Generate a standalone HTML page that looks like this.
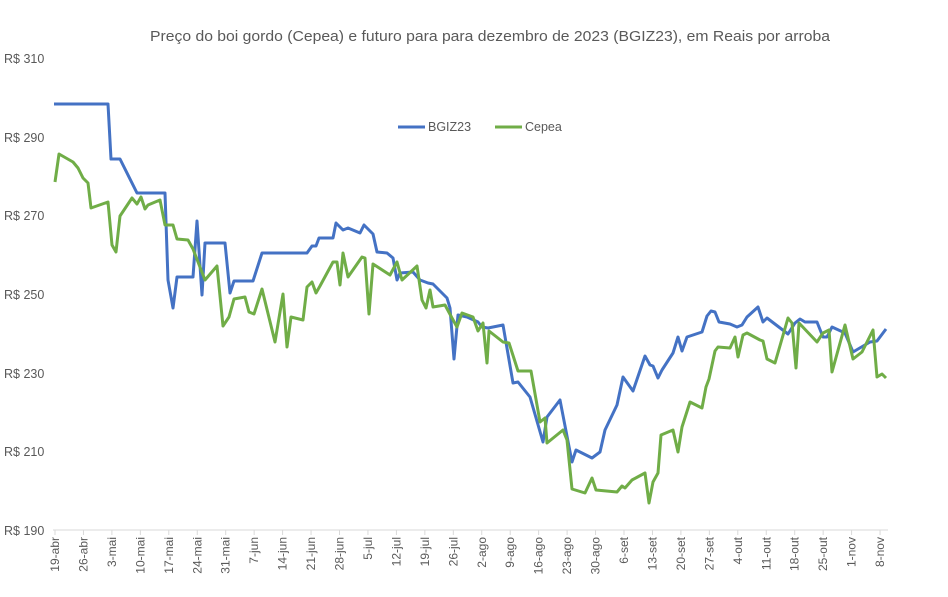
<!DOCTYPE html>
<html><head><meta charset="utf-8"><style>
body{margin:0;background:#fff;}
svg text{font-family:"Liberation Sans",sans-serif;fill:#595959;}
</style></head><body>
<svg width="948" height="592" viewBox="0 0 948 592" xmlns="http://www.w3.org/2000/svg">
<text x="150" y="41" font-size="15" textLength="680" lengthAdjust="spacingAndGlyphs">Preço do boi gordo (Cepea) e futuro para para dezembro de 2023 (BGIZ23), em Reais por arroba</text>
<g font-size="12.5">
<text x="4" y="63">R$ 310</text>
<text x="4" y="142">R$ 290</text>
<text x="4" y="220">R$ 270</text>
<text x="4" y="299">R$ 250</text>
<text x="4" y="378">R$ 230</text>
<text x="4" y="456">R$ 210</text>
<text x="4" y="535">R$ 190</text>
</g>
<line x1="53" y1="530" x2="888" y2="530" stroke="#d9d9d9" stroke-width="1"/>
<g stroke="#d9d9d9">
<line x1="55" y1="530" x2="55" y2="535"/><line x1="83.45" y1="530" x2="83.45" y2="535"/><line x1="111.9" y1="530" x2="111.9" y2="535"/><line x1="140.35" y1="530" x2="140.35" y2="535"/><line x1="168.8" y1="530" x2="168.8" y2="535"/><line x1="197.25" y1="530" x2="197.25" y2="535"/><line x1="225.7" y1="530" x2="225.7" y2="535"/><line x1="254.15" y1="530" x2="254.15" y2="535"/><line x1="282.6" y1="530" x2="282.6" y2="535"/><line x1="311.05" y1="530" x2="311.05" y2="535"/><line x1="339.5" y1="530" x2="339.5" y2="535"/><line x1="367.95" y1="530" x2="367.95" y2="535"/><line x1="396.4" y1="530" x2="396.4" y2="535"/><line x1="424.85" y1="530" x2="424.85" y2="535"/><line x1="453.3" y1="530" x2="453.3" y2="535"/><line x1="481.75" y1="530" x2="481.75" y2="535"/><line x1="510.2" y1="530" x2="510.2" y2="535"/><line x1="538.65" y1="530" x2="538.65" y2="535"/><line x1="567.1" y1="530" x2="567.1" y2="535"/><line x1="595.55" y1="530" x2="595.55" y2="535"/><line x1="624" y1="530" x2="624" y2="535"/><line x1="652.45" y1="530" x2="652.45" y2="535"/><line x1="680.9" y1="530" x2="680.9" y2="535"/><line x1="709.35" y1="530" x2="709.35" y2="535"/><line x1="737.8" y1="530" x2="737.8" y2="535"/><line x1="766.25" y1="530" x2="766.25" y2="535"/><line x1="794.7" y1="530" x2="794.7" y2="535"/><line x1="823.15" y1="530" x2="823.15" y2="535"/><line x1="851.6" y1="530" x2="851.6" y2="535"/><line x1="880.05" y1="530" x2="880.05" y2="535"/>
</g>
<g font-size="12" text-anchor="end">
<text transform="translate(59,537) rotate(-90)">19-abr</text>
<text transform="translate(87.45,537) rotate(-90)">26-abr</text>
<text transform="translate(115.9,537) rotate(-90)">3-mai</text>
<text transform="translate(144.35,537) rotate(-90)">10-mai</text>
<text transform="translate(172.8,537) rotate(-90)">17-mai</text>
<text transform="translate(201.25,537) rotate(-90)">24-mai</text>
<text transform="translate(229.7,537) rotate(-90)">31-mai</text>
<text transform="translate(258.15,537) rotate(-90)">7-jun</text>
<text transform="translate(286.6,537) rotate(-90)">14-jun</text>
<text transform="translate(315.05,537) rotate(-90)">21-jun</text>
<text transform="translate(343.5,537) rotate(-90)">28-jun</text>
<text transform="translate(371.95,537) rotate(-90)">5-jul</text>
<text transform="translate(400.4,537) rotate(-90)">12-jul</text>
<text transform="translate(428.85,537) rotate(-90)">19-jul</text>
<text transform="translate(457.3,537) rotate(-90)">26-jul</text>
<text transform="translate(485.75,537) rotate(-90)">2-ago</text>
<text transform="translate(514.2,537) rotate(-90)">9-ago</text>
<text transform="translate(542.65,537) rotate(-90)">16-ago</text>
<text transform="translate(571.1,537) rotate(-90)">23-ago</text>
<text transform="translate(599.55,537) rotate(-90)">30-ago</text>
<text transform="translate(628,537) rotate(-90)">6-set</text>
<text transform="translate(656.45,537) rotate(-90)">13-set</text>
<text transform="translate(684.9,537) rotate(-90)">20-set</text>
<text transform="translate(713.35,537) rotate(-90)">27-set</text>
<text transform="translate(741.8,537) rotate(-90)">4-out</text>
<text transform="translate(770.25,537) rotate(-90)">11-out</text>
<text transform="translate(798.7,537) rotate(-90)">18-out</text>
<text transform="translate(827.15,537) rotate(-90)">25-out</text>
<text transform="translate(855.6,537) rotate(-90)">1-nov</text>
<text transform="translate(884.05,537) rotate(-90)">8-nov</text>
</g>
<polyline fill="none" stroke="#4472c4" stroke-width="3" stroke-linejoin="round" points="54,104 108,104 111,159 120,159 137,193 165,193 168,280 173,308 177,277 193,277 197,221 202,295 205,243 225,243 230,293 234,281 253,281 262,253 307,253 312,246 316,246 319,238 333,238 336,223 343,230 348,228 360,233 364,225 373,234 377,252 387,253 393,258 397,280 400,273 413,272 420,280 428,283 433,284 447,298 450,308 454,359 458,315 467,317 478,322 482,327 488,328 503,325 513,383 518,382 530,397 543,442 547,417 560,400 572,462 576,450 592,458 600,452 605,430 617,405 623,377 633,391 645,356 650,365 653,366 658,378 662,370 673,353 678,337 682,351 687,337 702,332 707,316 711,311 715,312 719,322 730,324 737,327 742,325 747,317 758,307 763,322 767,318 788,334 795,323 800,319 805,322 817,322 823,337 827,337 832,327 845,333 853,352 870,342 877,341 886,329"/>
<polyline fill="none" stroke="#70ad47" stroke-width="3" stroke-linejoin="round" points="55,182 59,154 73,162 78,168 83,178 88,183 91,208 108,202 112,245 116,252 120,216 132,198 137,204 141,197 145,209 148,205 160,200 165,225 173,225 177,239 188,240 193,249 205,280 217,266 223,326 229,317 234,299 245,297 249,312 254,314 262,289 275,342 283,294 287,347 291,317 303,320 307,287 312,282 316,293 320,286 333,262 337,262 340,285 343,253 348,277 362,257 365,258 369,314 373,264 390,275 397,262 402,280 417,266 422,300 426,308 430,290 433,307 445,305 452,318 457,327 462,313 473,317 478,331 483,323 487,363 489,331 503,342 509,343 518,371 531,371 540,422 545,418 547,443 563,430 567,440 572,489 585,493 592,478 596,490 617,492 622,486 625,488 632,480 645,473 649,503 653,482 658,473 661,435 673,430 678,452 682,427 690,402 702,408 706,387 709,379 715,351 718,347 730,348 735,337 738,357 743,335 747,333 760,340 763,341 767,359 775,363 788,318 792,323 796,368 799,323 817,342 823,333 829,330 832,372 845,325 853,359 862,352 873,330 877,377 882,374 886,378"/>
<line x1="398" y1="127" x2="425" y2="127" stroke="#4472c4" stroke-width="3"/>
<text x="428" y="131" font-size="12.5">BGIZ23</text>
<line x1="495" y1="127" x2="522" y2="127" stroke="#70ad47" stroke-width="3"/>
<text x="525" y="131" font-size="12.5">Cepea</text>
</svg>
</body></html>
